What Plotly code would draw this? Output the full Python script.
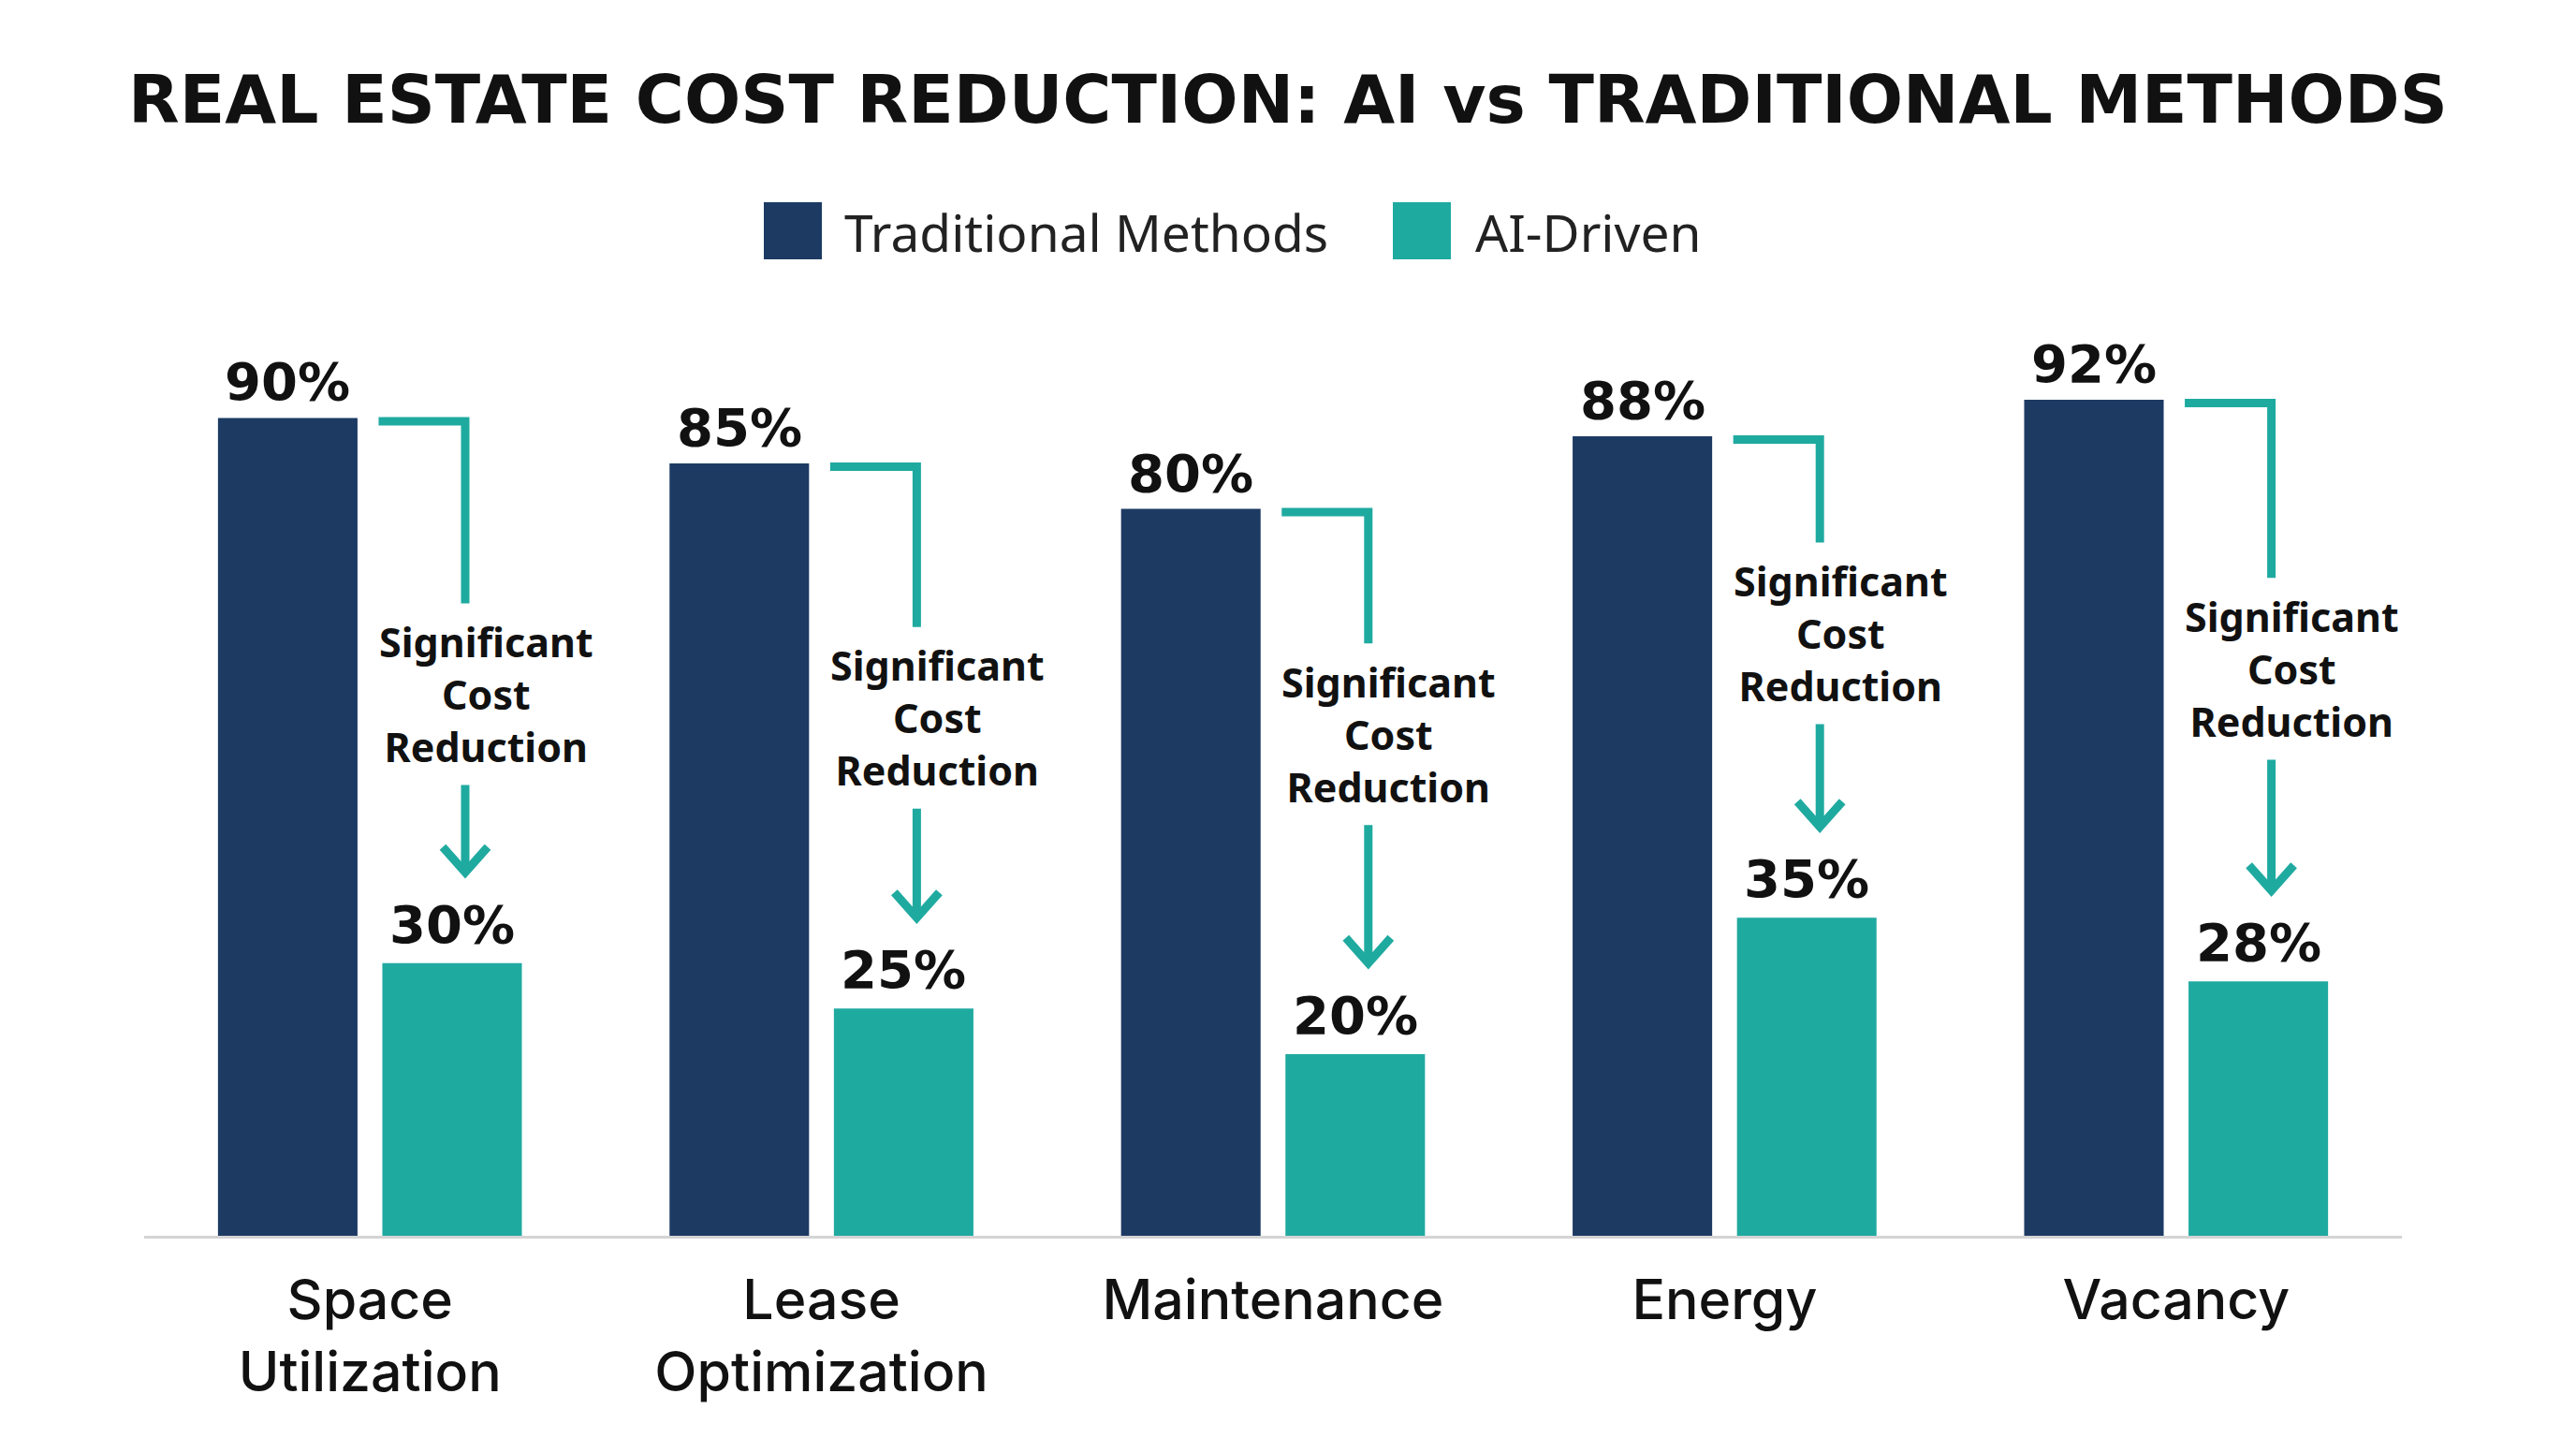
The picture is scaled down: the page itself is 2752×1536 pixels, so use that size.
import plotly.graph_objects as go

# ---- data ----
categories = ["Space<br>Utilization", "Lease<br>Optimization", "Maintenance", "Energy", "Vacancy"]
traditional = [90, 85, 80, 88, 92]
ai_driven = [30, 25, 20, 35, 28]
series_names = ["Traditional Methods", "AI-Driven"]
title_text = "REAL ESTATE COST REDUCTION: AI vs TRADITIONAL METHODS"
note_text = "Significant<br>Cost<br>Reduction"
note_levels = [59.6, 57.0, 55.2, 66.3, 62.4]   # callout centre, in %

# ---- layout constants ----
W, H = 2752, 1536
OFF = 8                       # page body margin in the browser
ML, MR, MT, MB = 146, 194, 322, 224
PW = W - ML - MR
PH = H - MT - MB
Y_MAX = 102
NAVY = "#1d3a63"
TEAL = "#1faaa0"
TEXT = "#111111"

UX = PW / len(categories)   # px per category unit
UY = PH / Y_MAX             # px per value unit

BAR_W = 0.309
HALF_GAP = 0.0275
trad_off = -(HALF_GAP + BAR_W)
ai_off = HALF_GAP


def px_x(px):
    return (px - OFF - ML) / PW


def px_y(py):
    return (H - MB - (py - OFF)) / PH


fig = go.Figure()
fig.add_bar(x=categories, y=traditional, name=series_names[0], marker_color=NAVY,
            marker_line_width=0, width=BAR_W, offset=trad_off, showlegend=False)
fig.add_bar(x=categories, y=ai_driven, name=series_names[1], marker_color=TEAL,
            marker_line_width=0, width=BAR_W, offset=ai_off, showlegend=False)

shapes = []
annotations = []
LINE_W = 9
PCT_FONT = dict(family="DejaVu Sans", size=56, color=TEXT, weight=700)
NOTE_FONT = dict(family="Noto Sans", size=43, color=TEXT, weight=700)
for i, (t, a, yc) in enumerate(zip(traditional, ai_driven, note_levels)):
    trad_c = i + trad_off + BAR_W / 2
    ai_c = i + ai_off + BAR_W / 2
    xv = ai_c + 14 / UX
    xtext = ai_c + 36 / UX
    x_start = i + ai_off - 4 / UX
    yh = t - 3.5 / UY
    y_top_end = yc + 10
    y_arrow_start = yc - 10
    tip = a + 10
    hw = 24 / UX
    hh = 27 / UY
    shapes.append(dict(type="path", xref="x", yref="y",
                       path=f"M {x_start} {yh} L {xv} {yh} L {xv} {y_top_end}",
                       line=dict(color=TEAL, width=LINE_W)))
    shapes.append(dict(type="path", xref="x", yref="y",
                       path=f"M {xv} {y_arrow_start} L {xv} {tip + 1/UY}",
                       line=dict(color=TEAL, width=LINE_W)))
    shapes.append(dict(type="path", xref="x", yref="y",
                       path=f"M {xv - hw} {tip + hh} L {xv} {tip} L {xv + hw} {tip + hh}",
                       line=dict(color=TEAL, width=LINE_W)))
    annotations.append(dict(x=xtext, y=yc, xref="x", yref="y", text=note_text,
                            showarrow=False, xanchor="center", yanchor="middle",
                            font=NOTE_FONT))
    annotations.append(dict(x=trad_c, y=t, xref="x", yref="y", text=f"{t}%",
                            showarrow=False, xanchor="center", yanchor="bottom", yshift=4,
                            font=PCT_FONT))
    annotations.append(dict(x=ai_c, y=a, xref="x", yref="y", text=f"{a}%",
                            showarrow=False, xanchor="center", yanchor="bottom", yshift=7,
                            font=PCT_FONT))

# custom legend (large square swatches)
legend_items = [(series_names[0], NAVY, 816, 900), (series_names[1], TEAL, 1488, 1574)]
for name, col, sx, tx in legend_items:
    shapes.append(dict(type="rect", xref="paper", yref="paper",
                       x0=px_x(sx), x1=px_x(sx + 62), y0=px_y(277), y1=px_y(216),
                       fillcolor=col, line=dict(width=0)))
    annotations.append(dict(x=px_x(tx), y=px_y(247), xref="paper", yref="paper", text=name,
                            showarrow=False, xanchor="left", yanchor="middle",
                            font=dict(family="Noto Sans", size=55, color="#222222")))

fig.update_layout(
    width=W, height=H,
    margin=dict(l=ML, r=MR, t=MT, b=MB),
    paper_bgcolor="white", plot_bgcolor="white",
    barmode="overlay",
    showlegend=False,
    title=dict(text=title_text, x=px_x(1376), xanchor="center", xref="paper",
               y=1 - (106 - OFF) / H, yanchor="middle",
               font=dict(family="DejaVu Sans", size=71, color=TEXT, weight=700)),
    xaxis=dict(type="category", range=[-0.5, len(categories) - 0.5], showgrid=False,
               showline=True, linecolor="#d4d4d4", linewidth=3, ticks="",
               ticklabelstandoff=15,
               tickfont=dict(family="Inter", size=59, color=TEXT, weight=500),
               zeroline=False, fixedrange=True),
    yaxis=dict(range=[0, Y_MAX], visible=False, showgrid=False, zeroline=False),
    shapes=shapes,
    annotations=annotations,
)

fig.write_html("out.html")
